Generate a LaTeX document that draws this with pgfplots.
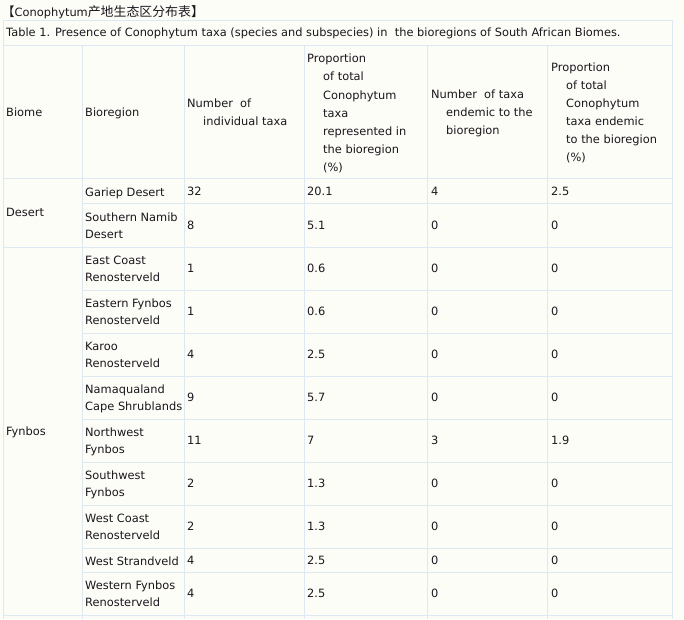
\documentclass[border=0pt]{standalone}
\usepackage{pgfplots}
\pgfplotsset{compat=1.18}
\usepackage{pgfplotstable}
\usepackage{fontspec}
\setmainfont{DejaVu Sans}
\newfontfamily\cjk{Noto Sans CJK SC}
\definecolor{bgc}{RGB}{253,253,247}
\definecolor{gridc}{RGB}{222,232,243}
\definecolor{txt}{RGB}{28,22,30}
\newcommand\fs{\fontsize{11.4bp}{18bp}\selectfont}

% row centre (px from top), number of taxa, proportion, endemic, proportion endemic
\pgfplotstableread{
yc    n  p    e  pe
191.5 32 20.1 4  2.5
225   8  5.1  0  0
268.5 1  0.6  0  0
311.5 1  0.6  0  0
354.5 4  2.5  0  0
397.5 9  5.7  0  0
440.5 11 7    3  1.9
483.5 2  1.3  0  0
526.5 2  1.3  0  0
560.5 4  2.5  0  0
593.5 4  2.5  0  0
}\datatab

\newcommand\T[3]{\node[anchor=base west, inner sep=0pt, text=txt, font=\fs] at (axis cs:#1,#2) {#3};}

\begin{document}
\begin{tikzpicture}
\begin{axis}[
  scale only axis, width=684bp, height=619bp,
  xmin=0, xmax=684, ymin=0, ymax=619, y dir=reverse,
  axis lines=none, xtick=\empty, ytick=\empty, clip=false,
  unbounded coords=jump,
]
% background
\addplot[fill=bgc, draw=none] coordinates {(0,0) (684,0) (684,619) (0,619)} -- cycle;
% grid lines
\addplot[gridc, line width=1bp] coordinates {
 (3,20.5)(672.5,20.5) (nan,nan)
 (3,45.5)(672.5,45.5) (nan,nan)
 (3,178.5)(672.5,178.5) (nan,nan)
 (82,203.5)(672.5,203.5) (nan,nan)
 (3,247.5)(672.5,247.5) (nan,nan)
 (82,290.5)(672.5,290.5) (nan,nan)
 (82,333.5)(672.5,333.5) (nan,nan)
 (82,376.5)(672.5,376.5) (nan,nan)
 (82,419.5)(672.5,419.5) (nan,nan)
 (82,462.5)(672.5,462.5) (nan,nan)
 (82,505.5)(672.5,505.5) (nan,nan)
 (82,548.5)(672.5,548.5) (nan,nan)
 (82,572.5)(672.5,572.5) (nan,nan)
 (3,615.5)(672.5,615.5) (nan,nan)
 (3.5,20)(3.5,619) (nan,nan)
 (672.5,20)(672.5,619) (nan,nan)
 (82.5,45)(82.5,619) (nan,nan)
 (184.5,45)(184.5,619) (nan,nan)
 (304.5,45)(304.5,619) (nan,nan)
 (427.5,45)(427.5,619) (nan,nan)
 (547.5,45)(547.5,619)
};
% data values
\addplot[draw=none, mark=none, nodes near coords, point meta=explicit symbolic,
  nodes near coords style={anchor=west, inner sep=0pt, text=txt, font=\fs}]
  table[x expr=187, y=yc, meta=n] {\datatab};
\addplot[draw=none, mark=none, nodes near coords, point meta=explicit symbolic,
  nodes near coords style={anchor=west, inner sep=0pt, text=txt, font=\fs}]
  table[x expr=307, y=yc, meta=p] {\datatab};
\addplot[draw=none, mark=none, nodes near coords, point meta=explicit symbolic,
  nodes near coords style={anchor=west, inner sep=0pt, text=txt, font=\fs}]
  table[x expr=431, y=yc, meta=e] {\datatab};
\addplot[draw=none, mark=none, nodes near coords, point meta=explicit symbolic,
  nodes near coords style={anchor=west, inner sep=0pt, text=txt, font=\fs}]
  table[x expr=551, y=yc, meta=pe] {\datatab};

% title & caption
\node[anchor=base west, inner sep=0pt, text=txt] at (axis cs:2,17) {{\cjk\fontsize{12.5bp}{14bp}\selectfont 【}{\fs Conophytum}{\cjk\fontsize{12.9bp}{14bp}\selectfont 产地生态区分布表】}};
\T{6}{37}{Table 1. Presence of Conophytum taxa (species and subspecies) in\ \ the bioregions of South African Biomes.}
% header
\T{6}{116.5}{Biome}
\T{85}{116.5}{Bioregion}
\T{187}{107.5}{Number\ \ of}
\T{203}{125.5}{individual taxa}
\T{307}{63}{Proportion}
\T{323}{81}{of total}
\T{323}{99}{Conophytum}
\T{323}{117}{taxa}
\T{323}{135}{represented in}
\T{323}{153}{the bioregion}
\T{323}{171}{(\%)}
\T{431}{98.3}{Number\ \ of taxa}
\T{446}{116.3}{endemic to the}
\T{446}{134.3}{bioregion}
\T{551}{71.5}{Proportion}
\T{566}{89.5}{of total}
\T{566}{107.5}{Conophytum}
\T{566}{125.5}{taxa endemic}
\T{566}{143.5}{to the bioregion}
\T{566}{161.5}{(\%)}
% biomes
\T{6}{216}{Desert}
\T{6}{435}{Fynbos}
% bioregions
\T{85}{196}{Gariep Desert}
\T{85}{221.5}{Southern Namib}
\T{85}{238.5}{Desert}
\T{85}{264.5}{East Coast}
\T{85}{281.5}{Renosterveld}
\T{85}{307.5}{Eastern Fynbos}
\T{85}{324.5}{Renosterveld}
\T{85}{350.5}{Karoo}
\T{85}{367.5}{Renosterveld}
\T{85}{393.5}{Namaqualand}
\T{85}{410.5}{Cape Shrublands}
\T{85}{436.5}{Northwest}
\T{85}{453.5}{Fynbos}
\T{85}{479.5}{Southwest}
\T{85}{496.5}{Fynbos}
\T{85}{522.5}{West Coast}
\T{85}{539.5}{Renosterveld}
\T{85}{565}{West Strandveld}
\T{85}{589.5}{Western Fynbos}
\T{85}{606.5}{Renosterveld}
\end{axis}
\end{tikzpicture}
\end{document}
